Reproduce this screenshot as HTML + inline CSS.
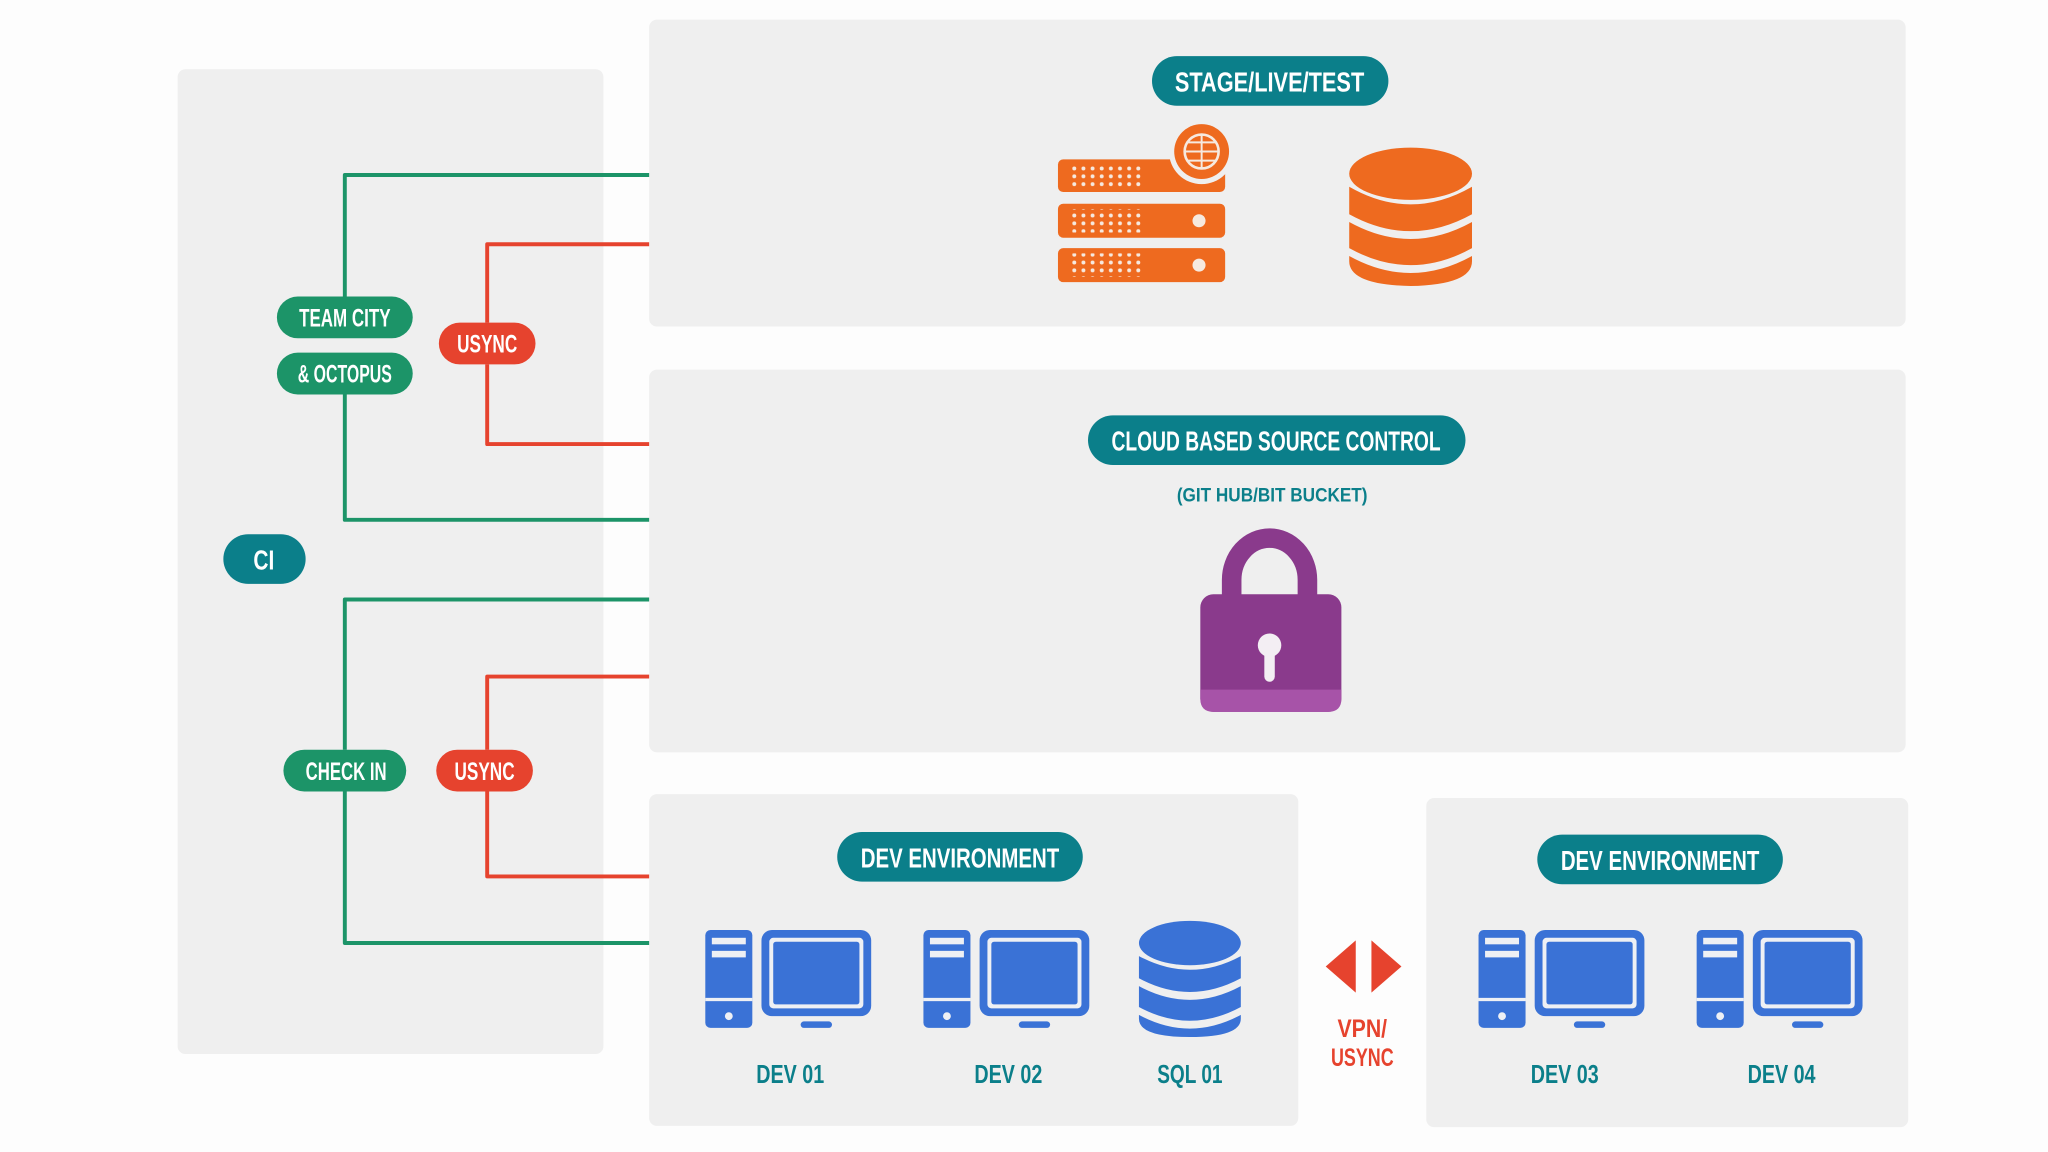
<!DOCTYPE html>
<html><head><meta charset="utf-8"><style>
html,body{margin:0;padding:0;background:#fff;}
svg{display:block;}
text{font-family:"Liberation Sans Narrow","Liberation Sans",sans-serif;font-weight:bold;}
</style></head><body>
<svg width="2048" height="1152" viewBox="0 0 1568 882" xmlns="http://www.w3.org/2000/svg">
<defs>
<g id="pc">
<rect x="0" y="0" width="36" height="75" rx="4" fill="#3a72d6"/>
<rect x="5" y="6" width="26" height="5" fill="#eef0f4"/>
<rect x="5" y="16" width="26" height="5" fill="#eef0f4"/>
<rect x="0" y="52" width="36" height="2.5" fill="#eef0f4"/>
<circle cx="18" cy="66" r="3" fill="#eef0f4"/>
<rect x="43" y="0" width="84" height="66" rx="8" fill="#3a72d6"/>
<rect x="49" y="6" width="72" height="54" rx="3" fill="#eef0f4"/>
<rect x="52" y="9" width="66" height="48" rx="2" fill="#3a72d6"/>
<rect x="73" y="70" width="24" height="5" rx="2.5" fill="#3a72d6"/>
</g>
<pattern id="dots" x="0" y="0" width="7" height="6" patternUnits="userSpaceOnUse">
<circle cx="3.5" cy="3" r="1.5" fill="#f6e9df"/>
</pattern>
</defs>
<rect width="1568" height="882" fill="#fdfdfd"/>
<rect x="136" y="53" width="326" height="754" rx="6" fill="#efefef"/>
<rect x="497" y="15" width="962" height="235" rx="6" fill="#efefef"/>
<rect x="497" y="283" width="962" height="293" rx="6" fill="#efefef"/>
<rect x="497" y="608" width="497" height="254" rx="6" fill="#efefef"/>
<rect x="1092" y="611" width="369" height="252" rx="6" fill="#efefef"/>
<g fill="none" stroke-width="3" stroke-linejoin="round">
<path d="M497 134 H264 V228 M264 300 V398 H497" stroke="#1c9468"/>
<path d="M497 187 H373 V247 M373 279 V340 H497" stroke="#e6432e"/>
<path d="M497 459 H264 V574 M264 606 V722 H497" stroke="#1c9468"/>
<path d="M497 518 H373 V574 M373 606 V671 H497" stroke="#e6432e"/>
</g>
<g text-anchor="middle" font-size="19" fill="#fff">
<rect x="212" y="227" width="104" height="32" rx="16" fill="#1c9468"/>
<text x="264" y="250" textLength="70" lengthAdjust="spacingAndGlyphs">TEAM CITY</text>
<rect x="212" y="270" width="104" height="32" rx="16" fill="#1c9468"/>
<text x="264" y="293" textLength="72" lengthAdjust="spacingAndGlyphs">&amp; OCTOPUS</text>
<rect x="336" y="247" width="74" height="32" rx="16" fill="#e6432e"/>
<text x="373" y="270" textLength="46" lengthAdjust="spacingAndGlyphs">USYNC</text>
<rect x="171" y="409" width="63" height="38" rx="19" fill="#0b7f8a"/>
<text x="202" y="436" font-size="21" textLength="16" lengthAdjust="spacingAndGlyphs">CI</text>
<rect x="217" y="574" width="94" height="32" rx="16" fill="#1c9468"/>
<text x="265" y="597" textLength="62" lengthAdjust="spacingAndGlyphs">CHECK IN</text>
<rect x="334" y="574" width="74" height="32" rx="16" fill="#e6432e"/>
<text x="371" y="597" textLength="46" lengthAdjust="spacingAndGlyphs">USYNC</text>
<rect x="882" y="43" width="181" height="38" rx="19" fill="#0b7f8a"/>
<text x="972" y="70" font-size="21" textLength="145" lengthAdjust="spacingAndGlyphs">STAGE/LIVE/TEST</text>
<rect x="833" y="318" width="289" height="38" rx="19" fill="#0b7f8a"/>
<text x="977" y="345" font-size="21" textLength="252" lengthAdjust="spacingAndGlyphs">CLOUD BASED SOURCE CONTROL</text>
<text x="974" y="384" font-size="15" fill="#0b7f8a" textLength="146" lengthAdjust="spacingAndGlyphs">(GIT HUB/BIT BUCKET)</text>
<rect x="641" y="637" width="188" height="38" rx="19" fill="#0b7f8a"/>
<text x="735" y="664" font-size="21" textLength="152" lengthAdjust="spacingAndGlyphs">DEV ENVIRONMENT</text>
<rect x="1177" y="639" width="188" height="38" rx="19" fill="#0b7f8a"/>
<text x="1271" y="666" font-size="21" textLength="152" lengthAdjust="spacingAndGlyphs">DEV ENVIRONMENT</text>
</g>
<g fill="#ee6a1f">
<rect x="810" y="122" width="128" height="25" rx="4"/>
<rect x="810" y="156" width="128" height="26" rx="4"/>
<rect x="810" y="190" width="128" height="26" rx="4"/>
<circle cx="920" cy="116" r="25" fill="#efefef"/>
<circle cx="920" cy="116" r="21"/>
<circle cx="920" cy="116" r="13" fill="none" stroke="#f6e9df" stroke-width="2"/>
<path d="M907 116 H933 M920 103 V129 M909 109 H931 M909 123 H931" stroke="#f6e9df" stroke-width="1.5"/>
<circle cx="918" cy="169" r="5" fill="#f6e9df"/>
<circle cx="918" cy="203" r="5" fill="#f6e9df"/>
</g>
<rect x="820" y="126" width="56" height="18" fill="url(#dots)"/>
<rect x="820" y="160" width="56" height="18" fill="url(#dots)"/>
<rect x="820" y="194" width="56" height="18" fill="url(#dots)"/>
<g fill="#ee6a1f">
<ellipse cx="1080" cy="133" rx="47" ry="20"/>
<path d="M1033 143 Q1080 170 1127 143 V164 Q1080 190 1033 164Z"/>
<path d="M1033 170 Q1080 196 1127 170 V190 Q1080 216 1033 190Z"/>
<path d="M1033 196 Q1080 222 1127 196 V200 Q1127 218 1080 219 Q1033 218 1033 200Z"/>
</g>
<path d="M943 462 V444 A29 32 0 0 1 1001 444 V462" fill="none" stroke="#8a3a8c" stroke-width="15"/>
<rect x="919" y="455" width="108" height="90" rx="10" fill="#8a3a8c"/>
<path d="M919 528 H1027 V535 Q1027 545 1017 545 H929 Q919 545 919 535Z" fill="#a753a8"/>
<circle cx="972" cy="494" r="9" fill="#f3eef3"/>
<rect x="968" y="496" width="8" height="26" rx="4" fill="#f3eef3"/>
<use href="#pc" x="540" y="712"/>
<use href="#pc" x="707" y="712"/>
<use href="#pc" x="1132" y="712"/>
<use href="#pc" x="1299" y="712"/>
<g fill="#3a72d6">
<ellipse cx="911" cy="722" rx="39" ry="17"/>
<path d="M872 732 Q911 753 950 732 V749 Q911 770 872 749Z"/>
<path d="M872 755 Q911 776 950 755 V771 Q911 792 872 771Z"/>
<path d="M872 777 Q911 798 950 777 V780 Q950 794 911 794 Q872 794 872 780Z"/>
</g>
<path d="M1038 720 L1015 740 L1038 760Z" fill="#e6432e"/>
<path d="M1050 720 L1073 740 L1050 760Z" fill="#e6432e"/>
<g text-anchor="middle" font-size="19">
<text x="1043" y="794" fill="#e6432e" textLength="38" lengthAdjust="spacingAndGlyphs">VPN/</text>
<text x="1043" y="816" fill="#e6432e" textLength="48" lengthAdjust="spacingAndGlyphs">USYNC</text>
<g fill="#0b7f8a" font-size="20">
<text x="605" y="829" textLength="52" lengthAdjust="spacingAndGlyphs">DEV 01</text>
<text x="772" y="829" textLength="52" lengthAdjust="spacingAndGlyphs">DEV 02</text>
<text x="911" y="829" textLength="50" lengthAdjust="spacingAndGlyphs">SQL 01</text>
<text x="1198" y="829" textLength="52" lengthAdjust="spacingAndGlyphs">DEV 03</text>
<text x="1364" y="829" textLength="52" lengthAdjust="spacingAndGlyphs">DEV 04</text>
</g>
</g>
</svg>
</body></html>
